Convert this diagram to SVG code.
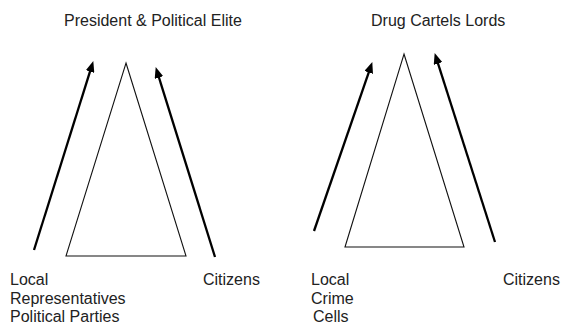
<svg xmlns="http://www.w3.org/2000/svg" width="562" height="324" viewBox="0 0 562 324">
<style>
text{font-family:"Liberation Sans",Arial,sans-serif;font-size:16px;fill:#222}
.tri{fill:none;stroke:#111;stroke-width:1.1}
.arr{stroke:#000;stroke-width:2.3;fill:none;marker-end:url(#ah)}
</style>
<defs>
<marker id="ah" markerUnits="userSpaceOnUse" markerWidth="11" markerHeight="9" refX="7" refY="4.5" orient="auto" viewBox="0 0 11 9">
<path d="M0,0 L11,4.5 L0,9 z" fill="#000"/>
</marker>
</defs>
<rect width="562" height="324" fill="#fff"/>
<g id="left-triangle"><polygon class="tri" points="126,63 186,256 66,256"/></g>
<g id="right-triangle"><polygon class="tri" points="404,54 464,247 345,247"/></g>
<g id="connectors">
<line class="arr" x1="34" y1="250" x2="92.1" y2="64.9"/>
<line class="arr" x1="215" y1="257" x2="156.9" y2="70.9"/>
<line class="arr" x1="314" y1="231" x2="371" y2="65.8"/>
<line class="arr" x1="495" y1="242" x2="435.9" y2="56.9"/>
</g>
<g id="label-president"><text x="64" y="26">President &amp; Political Elite</text></g>
<g id="label-cartels"><text x="371" y="26">Drug Cartels Lords</text></g>
<g id="label-local-left"><text x="10" y="285">Local</text><text x="10" y="304">Representatives</text><text x="10" y="322">Political Parties</text></g>
<g id="label-citizens-left"><text x="203" y="285">Citizens</text></g>
<g id="label-local-right"><text x="311" y="285">Local</text><text x="311" y="304">Crime</text><text x="313" y="322">Cells</text></g>
<g id="label-citizens-right"><text x="503" y="285">Citizens</text></g>
</svg>
